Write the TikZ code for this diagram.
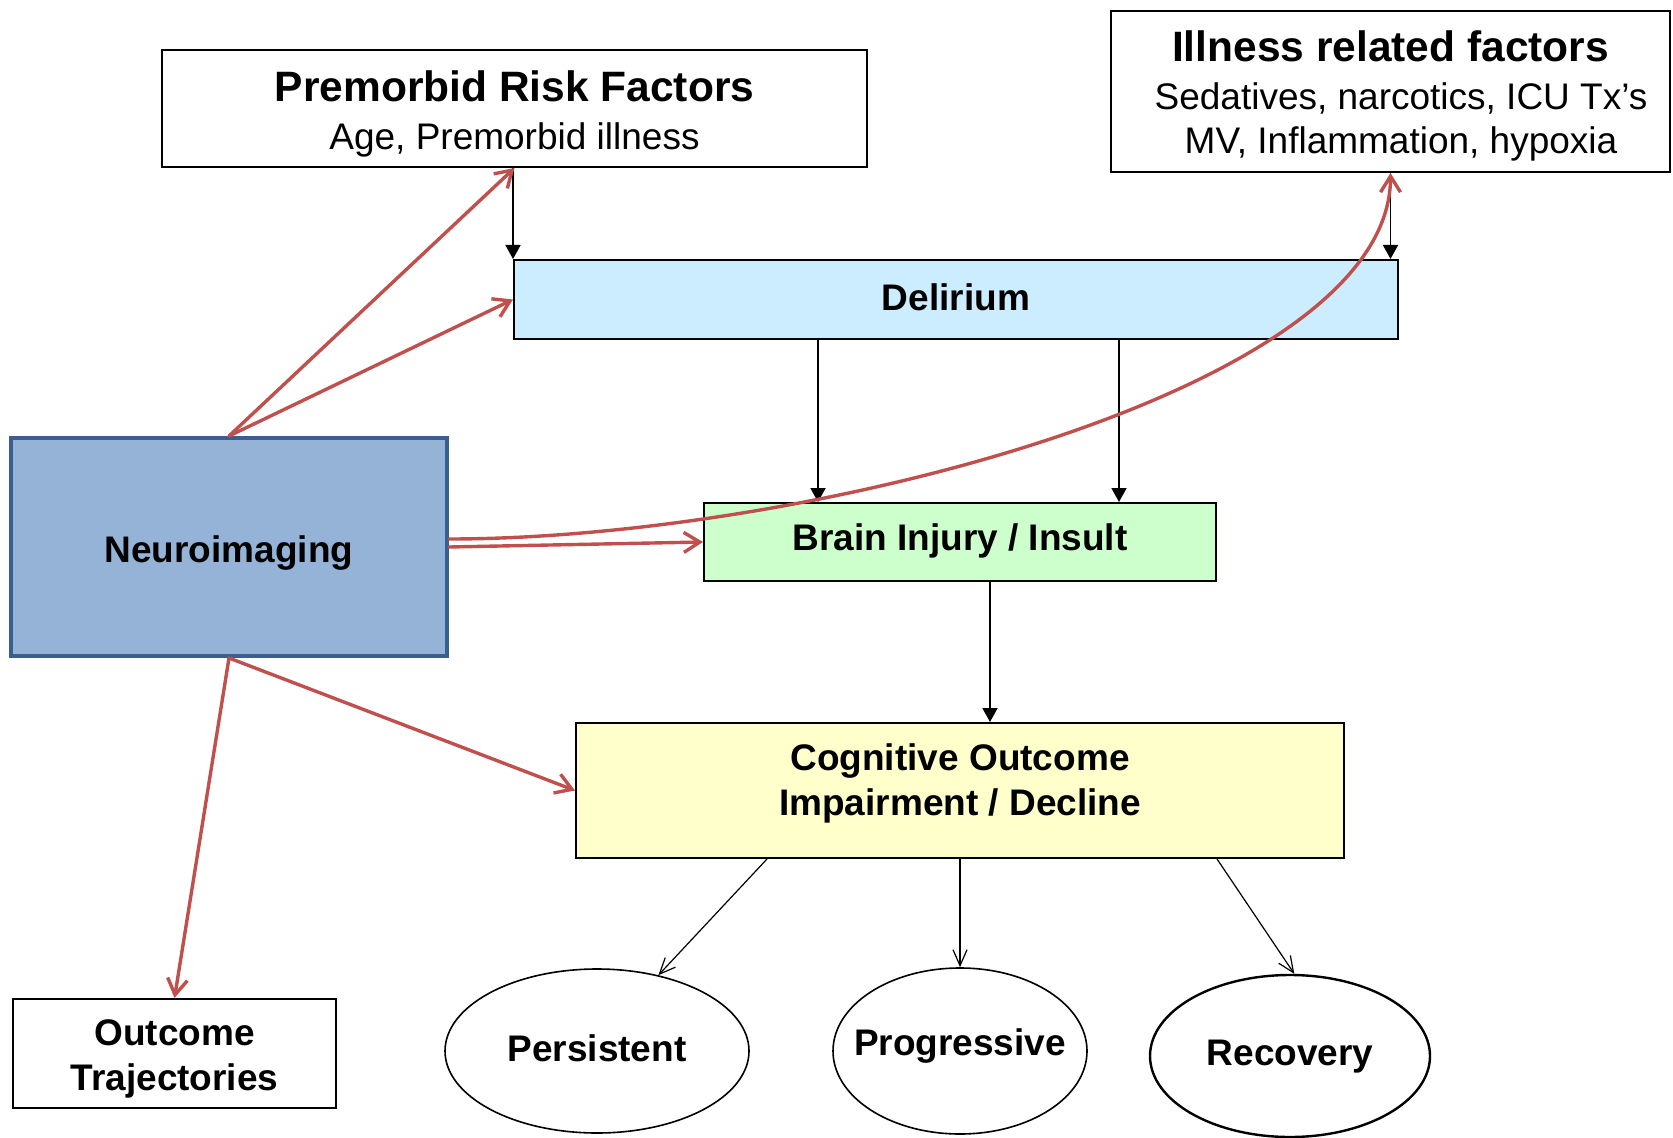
\documentclass[tikz,border=0pt]{standalone}
\usepackage{fontspec}
\setmainfont{Liberation Sans}
\usetikzlibrary{arrows.meta,calc,shapes.geometric}

\definecolor{linkred}{HTML}{C0504D}
\definecolor{imgfill}{HTML}{95B3D7}
\definecolor{imgdraw}{HTML}{3A5F8F}
\definecolor{delfill}{HTML}{CCECFF}
\definecolor{injfill}{HTML}{CCFFCC}
\definecolor{cogfill}{HTML}{FFFFCC}

\tikzset{
  every box/.style={draw, line width=1pt, inner sep=0pt},
  box text/.style={align=center, inner sep=0pt,
    font=\bfseries\fontsize{18.5}{22.5}\selectfont},
  factor text/.style={align=center, inner sep=0pt,
    font=\fontsize{18.5}{22}\selectfont},
  trajectory/.style={ellipse, draw, line width=0.8pt, inner sep=0pt},
  link/.style={-{Triangle[length=7pt,width=7.5pt]}, line width=0.9pt},
  thin link/.style={-{Straight Barb[length=8pt,width=7pt]}, line width=0.6pt},
  red link/.style={linkred, line width=1.7pt, line cap=round,
    -{Straight Barb[length=8pt,width=10pt]}},
}
\newcommand{\titletext}[1]{{\bfseries\fontsize{21.25}{24}\selectfont #1}}

\begin{document}
\begin{tikzpicture}[x=0.5pt, y=-0.5pt]
  \useasboundingbox (0,0) rectangle (1673,1138);

  % factor boxes
  \node [every box, minimum width=352.5pt, minimum height=58.5pt,
    label={[factor text, yshift=-2.7pt]center:{\titletext{Premorbid Risk Factors}\\[2pt] Age, Premorbid illness}}]
    (premorbid) at (514.5,108.5) {};
  \node [every box, minimum width=279.5pt, minimum height=80.5pt,
    label={[factor text, yshift=-2.3pt]center:{\titletext{Illness related factors}\\[2pt]
      \hspace*{10.5pt}Sedatives, narcotics, ICU Tx’s\\ \hspace*{10.5pt}MV, Inflammation, hypoxia}}]
    (illness) at (1390.5,91.5) {};

  % main chain
  \node [every box, fill=delfill, minimum width=442pt, minimum height=39.5pt,
    label={[box text, yshift=1pt]center:Delirium}]
    (delirium) at (956,299.5) {};
  \node [every box, fill=injfill, minimum width=256pt, minimum height=39pt,
    label={[box text, yshift=0.5pt]center:Brain Injury / Insult}]
    (injury) at (960,542) {};
  \node [every box, fill=cogfill, minimum width=384pt, minimum height=67.5pt,
    label={[box text, yshift=3.7pt]center:{Cognitive Outcome\\ Impairment / Decline}}]
    (cognitive) at (960,790.5) {};
  \node [every box, fill=imgfill, draw=imgdraw, line width=2pt,
    minimum width=218pt, minimum height=109pt,
    label={[box text, yshift=-3.2pt]center:Neuroimaging}]
    (imaging) at (229,547) {};
  \node [every box, minimum width=161.5pt, minimum height=54.5pt,
    label={[box text, yshift=-2.7pt]center:{Outcome\\ Trajectories}}]
    (trajectories) at (174.5,1053.5) {};

  % trajectories
  \node [trajectory, minimum width=152pt, minimum height=82pt,
    label={[box text, yshift=1.2pt]center:Persistent}]
    (persistent) at (597,1051) {};
  \node [trajectory, minimum width=127pt, minimum height=83pt,
    label={[box text, yshift=2.5pt]center:Progressive}]
    (progressive) at (960,1051) {};
  \node [trajectory, line width=1.2pt, minimum width=140pt, minimum height=81pt,
    label={[box text, yshift=-0.5pt]center:Recovery}]
    (recovery) at (1290,1056) {};

  % black links
  \draw [link] (premorbid.south -| delirium.north west) -- (delirium.north west);
  \draw [link] (illness.south) -- (illness.south |- delirium.north);
  \foreach \dx in {-138, 163}
    \draw [link] ($(delirium.south)+(\dx,0)$) -- ($(injury.north)+(\dx-4,0)$);
  \draw [link] ($(injury.south)+(30,0)$) -- ($(cognitive.north)+(30,0)$);

  \draw [thin link] ($(cognitive.south)+(-193,0)$) -- (persistent.51);
  \draw [thin link] (cognitive.south) -- (progressive.north);
  \draw [thin link] ($(cognitive.south)+(257,0)$) -- (recovery.87);

  % red links
  \draw [red link] (imaging.north) -- (premorbid.south);
  \draw [red link] (imaging.north) -- (delirium.west);
  \draw [red link] (imaging.east) -- (injury.west);
  \draw [red link] ($(imaging.east)+(0,-8)$)
    .. controls +(353,0) and +(0,218) .. (illness.south);
  \draw [red link] (imaging.south) -- (cognitive.west);
  \draw [red link] (imaging.south) -- (trajectories.north);
\end{tikzpicture}
\end{document}
